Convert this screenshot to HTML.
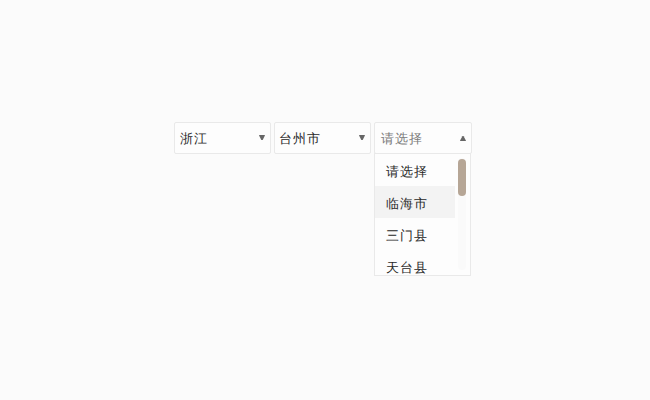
<!DOCTYPE html>
<html><head><meta charset="utf-8">
<style>
html,body{margin:0;padding:0;}
body{width:650px;height:400px;background:#fbfbfb;position:relative;overflow:hidden;font-family:"Liberation Sans",sans-serif;}
.sel{position:absolute;top:122px;height:30px;border:1px solid #e9e9e9;border-radius:2px;background:#fdfdfd;}
.sel .t{position:absolute;left:5px;top:0;line-height:32px;font-size:13px;letter-spacing:1px;color:#282828;white-space:nowrap;}
.sel svg{position:absolute;top:12px;}
.dd{position:absolute;left:374px;top:153px;width:95px;height:121px;border:1px solid #e9e9e9;background:#fdfdfd;overflow:hidden;}
.it{position:absolute;left:0;width:80px;height:32px;line-height:36px;font-size:13px;letter-spacing:1px;color:#282828;padding-left:11px;box-sizing:border-box;white-space:nowrap;}
.it.h{background:#f3f3f3;}
.track{position:absolute;left:83px;top:4px;width:8px;height:112px;background:#fafafa;border-radius:4px;}
.thumb{position:absolute;left:83px;top:5px;width:8px;height:37px;background:#b6a696;border-radius:4px;}
</style></head>
<body>
<div class="sel" style="left:174px;width:95px"><span class="t">浙江</span><svg style="left:84px" width="6" height="5" viewBox="0 0 6 5"><path d="M0.3 0H5.7Q6.1 0 5.9 0.5L3.7 5H2.3L0.1 0.5Q-0.1 0 0.3 0Z" fill="#666"/></svg></div>
<div class="sel" style="left:274px;width:95px"><span class="t" style="left:4px">台州市</span><svg style="left:84px" width="6" height="5" viewBox="0 0 6 5"><path d="M0.3 0H5.7Q6.1 0 5.9 0.5L3.7 5H2.3L0.1 0.5Q-0.1 0 0.3 0Z" fill="#666"/></svg></div>
<div class="sel" style="left:374px;width:96px"><span class="t" style="color:#7a7a7a;left:6px">请选择</span><svg style="left:85px;top:13px" width="6" height="5" viewBox="0 0 6 5"><path d="M0.3 5H5.7Q6.1 5 5.9 4.5L3.6 0.2Q3 -0.3 2.4 0.2L0.1 4.5Q-0.1 5 0.3 5Z" fill="#666"/></svg></div>
<div class="dd">
  <div class="it" style="top:0">请选择</div>
  <div class="it h" style="top:32px">临海市</div>
  <div class="it" style="top:64px">三门县</div>
  <div class="it" style="top:96px">天台县</div>
  <div class="track"></div>
  <div class="thumb"></div>
</div>
</body></html>
